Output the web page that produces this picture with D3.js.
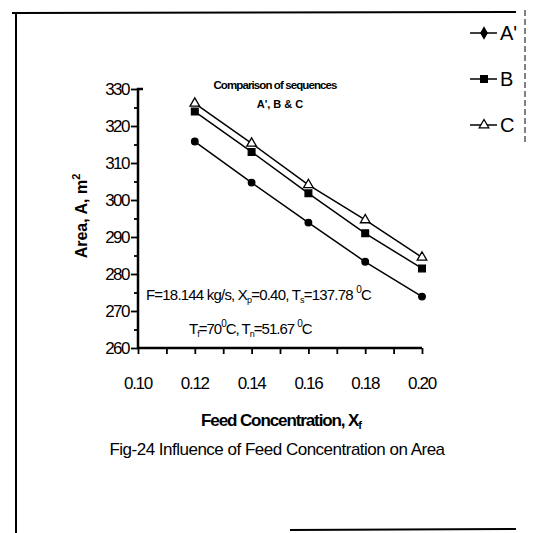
<!DOCTYPE html>
<html>
<head>
<meta charset="utf-8">
<script src="https://cdn.jsdelivr.net/npm/d3@7"></script>
<style>
  body { margin: 0; background: #fff; overflow: hidden; }
  svg { display: block; }
  svg text { font-family: "Liberation Sans Narrow", "Liberation Sans", Arial, sans-serif; fill: #000; }
</style>
</head>
<body>
<div id="chart"></div>
<script>
// feed concentration values and area per sequence
const feedConc = [0.12, 0.14, 0.16, 0.18, 0.20];
const areaA = [315.8, 304.7, 293.9, 283.3, 273.9];
const areaB = [323.9, 313.0, 301.8, 291.0, 281.5];
const areaC = [326.1, 315.3, 304.1, 294.6, 284.5];
const seriesNames = ["A'", "B", "C"];
const xTickLabels = ["0.10", "0.12", "0.14", "0.16", "0.18", "0.20"];
const yTickLabels = ["260", "270", "280", "290", "300", "310", "320", "330"];

const width = 533, height = 533;
const svg = d3.select("#chart").append("svg")
  .attr("width", width).attr("height", height);

// page frame
const frame = svg.append("g").attr("stroke", "#000").attr("stroke-width", 2);
frame.append("line").attr("x1", 12).attr("y1", 13).attr("x2", 516).attr("y2", 12);
frame.append("line").attr("x1", 16).attr("y1", 12).attr("x2", 16).attr("y2", 533);
frame.append("line").attr("x1", 290).attr("y1", 530).attr("x2", 516).attr("y2", 529);
svg.append("line")
  .attr("x1", 525).attr("x2", 525).attr("y1", 10).attr("y2", 145)
  .attr("stroke", "#000").attr("stroke-width", 1).attr("stroke-dasharray", "6,3");

const x = d3.scaleLinear().domain([0.10, 0.20]).range([138, 422]);
const y = d3.scaleLinear().domain([260, 330]).range([348, 89]);

// axes
const gx = svg.append("g").attr("transform", `translate(0,${y(260)})`);
gx.call(d3.axisBottom(x).tickValues(d3.range(0, 11).map(i => 0.10 + i * 0.01))
  .tickFormat("").tickSize(6));
const gy = svg.append("g").attr("transform", `translate(${x(0.10)},0)`);
gy.call(d3.axisLeft(y).tickValues(d3.range(260, 331, 5)).tickFormat("").tickSize(4));
gy.call(g => g.selectAll(".tick line").filter(d => d % 10 === 0).attr("x2", -7));
svg.selectAll(".domain").attr("stroke-width", 2.5);
gx.select(".domain").attr("d", `M${x(0.10)},0H${x(0.20)}`);
gy.select(".domain").attr("d", `M0,${y(260)}V${y(330)}H5`);
svg.selectAll(".tick line").attr("stroke-width", 1.8);

// tick labels
svg.append("g").selectAll("text").data(xTickLabels).join("text")
  .attr("x", d => x(+d)).attr("y", 389)
  .attr("text-anchor", "middle").attr("font-size", 17)
  .attr("letter-spacing", -1.3)
  .text(d => d);
svg.append("g").selectAll("text").data(yTickLabels).join("text")
  .attr("x", x(0.10) - 9).attr("y", d => y(+d) + 6)
  .attr("text-anchor", "end").attr("font-size", 17)
  .attr("letter-spacing", -1.5)
  .text(d => d);

// axis titles
svg.append("text")
  .attr("transform", `translate(87,216) rotate(-90)`)
  .attr("text-anchor", "middle").attr("font-size", 16).attr("font-weight", "bold")
  .html('Area, A, m<tspan dy="-7" font-size="11">2</tspan>');
svg.append("text")
  .attr("x", 281).attr("y", 426).attr("text-anchor", "middle")
  .attr("font-size", 17).attr("font-weight", "bold").attr("letter-spacing", -1.1)
  .html('Feed Concentration, X<tspan dy="3" font-size="11">f</tspan>');
svg.append("text")
  .attr("x", 277).attr("y", 455).attr("text-anchor", "middle")
  .attr("font-size", 17).attr("letter-spacing", -0.5)
  .text("Fig-24 Influence of Feed Concentration on  Area");

// annotations
svg.append("text").attr("x", 275).attr("y", 89).attr("text-anchor", "middle")
  .attr("font-size", 11.5).attr("font-weight", "bold").attr("letter-spacing", -0.9)
  .text("Comparison of sequences");
svg.append("text").attr("x", 280).attr("y", 108).attr("text-anchor", "middle")
  .attr("font-size", 11).attr("font-weight", "bold")
  .text("A', B & C");
svg.append("text").attr("x", 146).attr("y", 300)
  .attr("font-size", 15).attr("letter-spacing", -0.8)
  .html('F=18.144 kg/s, X<tspan dy="3" font-size="9">p</tspan><tspan dy="-3">=0.40, T</tspan><tspan dy="3" font-size="9">s</tspan><tspan dy="-3">=137.78 </tspan><tspan dy="-7" font-size="10">0</tspan><tspan dy="7">C</tspan>');
svg.append("text").attr("x", 189).attr("y", 334)
  .attr("font-size", 15).attr("letter-spacing", -1)
  .html('T<tspan dy="3" font-size="9">f</tspan><tspan dy="-3">=70</tspan><tspan dy="-7" font-size="10">0</tspan><tspan dy="7">C, T</tspan><tspan dy="3" font-size="9">n</tspan><tspan dy="-3">=51.67 </tspan><tspan dy="-7" font-size="10">0</tspan><tspan dy="7">C</tspan>');

// series
const series = [
  { name: seriesNames[0], values: areaA, symbol: d3.symbolCircle, fill: "#000", size: 34 },
  { name: seriesNames[1], values: areaB, symbol: d3.symbolSquare, fill: "#000", size: 45 },
  { name: seriesNames[2], values: areaC, symbol: d3.symbolTriangle, fill: "#fff", size: 40 }
];
const line = d3.line().x(d => x(d[0])).y(d => y(d[1]));

series.forEach(s => {
  const pts = feedConc.map((c, i) => [c, s.values[i]]);
  svg.append("path").datum(pts).attr("d", line)
    .attr("fill", "none").attr("stroke", "#000").attr("stroke-width", 1.5);
  svg.append("g").selectAll("path").data(pts).join("path")
    .attr("transform", d => `translate(${x(d[0])},${y(d[1])})`)
    .attr("d", d3.symbol(s.symbol, s.size))
    .attr("fill", s.fill).attr("stroke", "#000").attr("stroke-width", 1.3);
});

// legend
const legend = svg.append("g");
series.forEach((s, i) => {
  const ly = 33 + i * 46;
  legend.append("line").attr("x1", 470).attr("x2", 497).attr("y1", ly).attr("y2", ly)
    .attr("stroke", "#000").attr("stroke-width", 1.5);
  legend.append("path").attr("transform", `translate(484,${ly})`)
    .attr("d", d3.symbol(i === 0 ? d3.symbolDiamond : s.symbol, s.size))
    .attr("fill", s.fill).attr("stroke", "#000").attr("stroke-width", 1.3);
  legend.append("text").attr("x", 500).attr("y", ly + 7)
    .attr("font-size", 20).text(s.name);
});
</script>
</body>
</html>
